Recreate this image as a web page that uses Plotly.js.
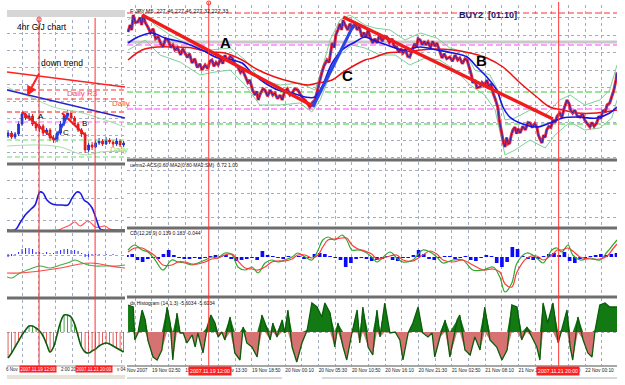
<!DOCTYPE html>
<html><head><meta charset="utf-8">
<script src="https://cdn.plot.ly/plotly-3.0.1.min.js"></script>
<style>html,body{margin:0;padding:0;background:#fff;}#chart{width:625px;height:385px;}</style>
</head><body><div id="chart"></div>
<script>
// ---------------- DATA ----------------
// Main 5-minute chart: x = bar index, y = price
const mainTickLabels = ["19 Nov 02:50","19 Nov 08:10","19 Nov 13:30","19 Nov 18:50","20 Nov 00:10","20 Nov 05:30","20 Nov 10:50","20 Nov 16:10","20 Nov 21:30","21 Nov 02:50","21 Nov 08:10","21 Nov 13:30","21 Nov 18:50","22 Nov 00:10"];
const markerDates = ["2007.11.19 12:00","2007.11.21 20:00"];
const mainMarkerBars = [157, 829];
const leftMarkerIdx = [8.86, 24.86];

const priceClose = [[2,229.22],[6,229.5],[9,229.3],[12,229.9],[16,229.6],[21,229.62],[25,229.8],[28,229.5],[31,229.9],[35,229.6],[40,229.42],[45,229.2],[50,229.35],[55,228.95],[60,229.02],[65,228.75],[69,228.62],[74,228.95],[79,228.9],[84,228.6],[88,228.7],[92,228.5],[97,228.6],[103,228.3],[107,228.55],[111,228.38],[116,228.2],[120,228.35],[125,227.98],[130,228.15],[135,227.8],[140,227.95],[144,227.7],[150,227.9],[155,227.75],[159,228.05],[163,228.1],[167,227.85],[171,228.0],[175,227.9],[180,228.15],[184,227.95],[188,228.3],[193,228.05],[198,228.25],[202,228.18],[207,227.95],[213,227.82],[218,227.6],[222,227.7],[227,227.42],[232,227.2],[236,227.3],[241,226.9],[246,226.7],[249,226.85],[252,226.5],[256,226.75],[261,226.95],[265,226.9],[270,226.65],[275,226.9],[280,226.7],[284,226.78],[289,226.55],[294,226.7],[298,226.5],[303,226.85],[308,226.95],[313,226.7],[317,226.78],[322,226.95],[328,226.9],[333,226.7],[338,226.55],[342,226.5],[346,226.35],[351,226.22],[356,226.4],[361,226.5],[366,226.9],[370,227.3],[374,227.58],[378,227.85],[384,228.1],[388,228.0],[391,228.5],[394,228.78],[398,228.6],[401,229.1],[405,229.3],[409,229.55],[412,229.3],[415,229.7],[419,229.5],[424,229.3],[428,229.55],[433,229.35],[438,229.58],[442,229.3],[446,229.45],[451,229.02],[455,229.2],[459,229.0],[463,229.3],[467,229.0],[472,228.78],[476,228.95],[480,228.78],[485,229.1],[490,228.85],[495,229.05],[499,229.02],[504,228.8],[509,228.95],[513,228.65],[518,228.62],[522,228.4],[526,228.55],[530,228.38],[535,228.5],[539,228.25],[543,228.22],[548,228.55],[552,228.75],[556,228.6],[559,228.95],[563,228.9],[567,228.7],[571,228.85],[574,228.7],[578,228.82],[583,228.6],[587,228.85],[591,228.65],[595,228.78],[600,228.5],[605,228.18],[609,228.35],[614,228.15],[620,228.22],[625,228.05],[630,228.3],[635,228.1],[639,228.18],[644,227.95],[649,228.15],[653,228.1],[656,227.9],[659,227.7],[662,227.45],[664,227.18],[668,227.3],[672,227.0],[678,227.02],[682,227.2],[687,227.1],[691,227.3],[695,227.0],[699,227.15],[703,226.78],[707,226.55],[712,226.22],[715,225.7],[718,225.3],[720,225.18],[723,224.8],[726,224.62],[729,225.0],[732,224.75],[735,224.78],[738,225.1],[741,225.3],[745,225.42],[748,225.15],[751,225.35],[755,225.18],[760,225.45],[765,225.3],[770,225.6],[774,225.58],[778,225.4],[783,225.55],[787,225.42],[790,225.1],[794,224.9],[797,224.78],[800,225.1],[803,225.0],[806,225.3],[810,225.45],[814,225.4],[818,225.7],[822,225.6],[826,225.85],[831,225.98],[835,225.8],[840,226.2],[845,226.5],[849,226.35],[852,226.1],[856,225.98],[860,226.1],[865,225.85],[870,225.82],[875,225.95],[879,225.7],[884,225.55],[889,225.42],[893,225.6],[897,225.45],[902,225.58],[906,225.85],[910,225.75],[914,226.1],[918,226.0],[922,226.3],[927,226.38],[931,226.6],[935,226.9],[939,227.3],[941,227.6]];
const maFast = [[2,228.78],[21,229.02],[48,229.18],[73,228.98],[111,228.78],[144,228.5],[175,228.18],[202,228.1],[221,227.98],[240,227.58],[265,227.18],[290,226.9],[317,226.78],[342,226.62],[361,226.62],[374,227.02],[394,227.98],[413,228.5],[438,228.82],[457,229.02],[472,228.9],[499,228.7],[530,228.5],[563,228.62],[595,228.5],[626,228.38],[653,228.22],[672,227.82],[691,227.42],[710,226.9],[722,226.22],[735,225.82],[755,225.58],[787,225.42],[812,225.58],[837,225.78],[864,225.82],[902,225.78],[927,225.98],[941,226.22]];
const maSlow = [[2,228.1],[29,228.5],[60,228.62],[92,228.62],[125,228.58],[156,228.42],[188,228.38],[221,228.1],[252,227.7],[284,227.42],[317,227.22],[348,227.1],[367,227.18],[394,227.3],[413,227.58],[438,227.9],[457,228.1],[472,228.18],[499,228.38],[530,228.42],[563,228.5],[595,228.54],[626,228.5],[659,228.38],[691,228.18],[722,227.82],[755,227.18],[787,226.62],[812,226.22],[837,226.1],[864,225.98],[902,225.98],[941,226.1]];
const bandUpper = [[2,229.7],[25,230.1],[54,229.5],[83,229.1],[121,228.7],[159,228.5],[198,228.58],[227,228.1],[255,227.3],[294,227.1],[332,227.18],[361,226.9],[374,227.7],[390,228.9],[409,229.7],[428,229.9],[457,229.5],[476,229.38],[505,229.3],[534,228.9],[563,229.18],[595,228.98],[620,228.58],[649,228.42],[668,227.7],[697,227.5],[712,226.9],[726,225.7],[745,225.78],[774,226.1],[803,225.9],[831,226.5],[851,226.7],[879,226.3],[908,226.5],[927,226.9],[941,227.9]];
const bandLower = [[2,228.5],[35,228.9],[63,228.3],[102,228.02],[140,227.5],[169,227.62],[198,227.7],[227,227.1],[255,226.3],[294,226.3],[332,226.38],[355,226.02],[371,226.5],[390,227.5],[409,228.3],[432,228.7],[457,228.58],[486,228.3],[515,228.3],[543,227.9],[572,228.18],[601,228.1],[630,227.7],[659,227.1],[687,226.7],[707,226.1],[726,224.3],[745,224.5],[774,224.9],[803,224.58],[822,225.1],[851,225.62],[879,225.3],[908,225.38],[931,225.78],[941,226.5]];
const mainLevels = [229.98, 228.82, 228.7, 226.82, 226.14, 225.54];
const trendA = [[29,229.9],[357,226.26]];
const trendB = [[415,229.82],[818,225.74]];
const trendC = [[357,226.22],[435,229.5]];
const waveLabels = ["A","C","B"];
const waveLabelPos = [[190,228.8],[424,227.47],[680,228.1]];

const macdMain = [[2,7],[15,12],[29,7],[40,5],[54,-3],[69,-13],[86,-3],[98,-5],[111,-6],[125,-8],[136,-6],[150,-3],[163,0],[175,-1],[188,4],[202,2],[213,-10],[227,-13],[240,-10],[252,-16],[265,-6],[278,-3],[290,-5],[303,-3],[317,0],[328,4],[342,0],[355,-3],[367,7],[376,17],[386,20],[399,17],[413,22],[422,17],[432,7],[444,7],[457,5],[470,0],[480,-5],[505,5],[518,-1],[530,-5],[549,-3],[568,7],[582,5],[595,0],[607,-6],[626,-3],[645,-3],[664,-13],[684,-13],[703,-10],[716,-20],[726,-35],[739,-26],[749,-6],[768,4],[787,-1],[799,-6],[816,7],[826,9],[835,5],[847,12],[856,2],[870,-3],[889,-1],[908,-3],[922,5],[933,12],[941,17]];
const macdSignal = [[2,5],[15,9],[29,9],[40,6],[54,1],[69,-8],[86,-8],[98,-5],[111,-5],[125,-7],[136,-7],[150,-5],[163,-2],[175,-1],[188,2],[202,3],[213,-4],[227,-11],[240,-12],[252,-13],[265,-10],[278,-5],[290,-4],[303,-4],[317,-2],[328,2],[342,2],[355,-1],[367,2],[376,10],[386,17],[399,18],[413,19],[422,19],[432,12],[444,8],[457,6],[470,3],[480,-2],[505,1],[518,2],[530,-3],[549,-4],[568,2],[582,6],[595,3],[607,-3],[626,-5],[645,-3],[664,-8],[684,-13],[703,-12],[716,-15],[726,-27],[739,-30],[749,-15],[768,-1],[787,1],[799,-3],[816,2],[826,7],[835,7],[847,9],[856,6],[870,0],[889,-2],[908,-2],[922,1],[933,8],[941,13]];
const macdHistBars = [0,10,20,30,40,50,60,70,80,90,100,110,120,130,140,150,160,170,180,190,200,210,220,230,240,250,260,270,280,290,300,310,320,330,340,350,360,370,380,390,400,410,420,430,440,450,460,470,480,490,500,510,520,530,540,550,560,570,580,590,600,610,620,630,640,650,660,670,680,690,700,710,720,730,740,750,760,770,780,790,800,810,820,830,840,850,860,870,880,890,900,910,920,930,940];
const macdHistVals = [2,3,-3,-5,-2,-1,-2,3,7,2,-1,-2,-2,-1,-2,-1,1,2,1,2,-2,-4,-3,-2,-1,-3,6,2,1,-1,-2,1,0,1,-2,-1,3,4,3,1,-1,-3,-10,-6,-2,-1,-2,-4,-3,-2,1,-3,-4,-1,-1,2,7,3,-2,-3,-1,1,1,-2,-1,1,-3,-4,-1,2,1,-6,-10,-5,10,8,1,-2,-3,-2,1,3,4,2,5,-4,-6,-2,-1,1,2,3,2,3,4];

const oscHist = [[2,27],[12,25],[15,-8],[21,-1],[29,22],[35,12],[40,-8],[50,-25],[58,-28],[67,-18],[77,25],[83,9],[88,-28],[96,19],[102,-1],[108,-1],[115,-11],[125,-3],[131,-15],[136,-1],[146,-21],[154,5],[161,17],[169,9],[175,-5],[182,0],[188,-8],[198,15],[207,-21],[217,-28],[223,5],[230,-11],[240,-15],[250,-25],[259,17],[265,9],[275,-8],[280,9],[288,-5],[298,12],[303,-1],[309,22],[317,-15],[326,-30],[336,-11],[346,2],[355,29],[365,25],[374,15],[380,29],[390,19],[399,-15],[405,9],[415,-15],[422,-28],[432,-1],[442,22],[447,-11],[453,25],[463,-15],[472,-23],[480,22],[486,-5],[495,29],[505,-1],[515,0],[524,-8],[530,-28],[540,-1],[549,9],[559,25],[568,-1],[578,-5],[586,-1],[591,-25],[601,-5],[611,12],[620,-25],[634,12],[639,17],[649,-18],[659,-23],[668,-5],[678,-18],[687,25],[697,-8],[710,-15],[720,-28],[730,-18],[739,27],[749,25],[758,-8],[768,5],[778,-5],[787,-15],[793,-28],[799,29],[808,9],[818,29],[828,-11],[835,2],[845,22],[851,-15],[856,-28],[866,15],[876,-8],[885,-21],[893,-25],[899,2],[908,27],[918,29],[927,25],[941,25]];

// Left 4hr chart: x = candle index
const leftOpen  = [226.4,226.7,226.3,226.6,227.6,228.6,228.2,228.4,227.6,227.2,227.4,226.7,227.0,226.2,226.0,226.7,227.6,228.4,228.7,228.2,227.6,227.0,226.6,225.0,225.5,225.3,225.7,225.9,225.6,226.0,225.8,225.6,225.9,225.5];
const leftHigh  = [227.0,226.9,226.8,227.9,228.8,228.9,228.7,228.6,227.9,227.6,227.6,227.2,227.2,226.5,226.9,227.9,228.6,229.0,228.9,228.4,227.8,227.2,226.8,225.7,225.8,226.0,226.2,226.1,226.3,226.2,226.0,226.2,226.1,225.9];
const leftLow   = [226.2,226.1,226.1,226.4,227.4,228.0,227.9,227.4,226.9,226.8,226.4,226.5,225.9,225.7,225.8,226.5,227.4,228.2,228.0,227.4,226.8,226.3,224.7,224.8,225.0,225.2,225.5,225.4,225.5,225.6,225.3,225.4,225.3,225.3];
const leftClose = [226.7,226.3,226.6,227.6,228.6,228.2,228.4,227.6,227.2,227.4,226.7,227.0,226.2,226.0,226.7,227.6,228.4,228.7,228.2,227.6,227.0,226.6,225.0,225.5,225.3,225.7,225.9,225.6,226.0,225.8,225.6,225.9,225.5,225.7];
const leftChannelTop = [[-0.3,232.8],[33.4,231.3]];
const leftTrendBlue = [[-0.3,231.0],[33.4,228.2]];
const leftLevels = [231.0, 230.1, 228.8, 227.8, 226.0, 224.3];
const leftBandUpper = [[-0.3,231.3],[3.4,230.7],[7.1,230.2],[12.9,229.3],[21.4,228.7],[33.4,227.3]];
const leftBandLower = [[-0.3,225.4],[9.1,225.5],[14.9,225.3],[22.0,224.5],[26.3,224.8],[33.4,224.9]];
const leftTrendA = [[4,228.8],[13.4,226.0]];
const leftTrendC = [[13.4,226.0],[17.1,228.5]];
const leftTrendB = [[15.4,228.7],[22,226.5]];
const leftWavePos = [[9.4,228.4],[16.6,226.8],[21.7,227.7]];
const leftIndBlue = [[-0.3,0],[2,0],[3.4,7],[4.9,15],[6.3,20],[7.7,25],[9.1,38],[10,37],[11.1,30],[12.6,26],[14,25],[15.4,25],[17.1,25],[18.3,32],[19.7,38],[20.6,37],[21.7,30],[22.9,27],[24,22],[25.1,12],[26.3,1],[27.1,0],[33.4,0]];
const leftIndRed = [[-0.3,0],[14.3,0],[15.7,2],[17.7,5],[19.1,8],[20.6,4],[22.9,9],[24.9,3],[26.3,3],[27.7,4],[29.1,1],[33.4,0]];
const leftMacdHist = [-3,-2,-1,2,5,6,6,5,2,2,1,2,1,1,3,4,5,5,4,4,3,1,-3,-3,-1,-1,-1,0,-1,0,-1,0,0,0];
const leftMacdGreen = [[-0.3,-23],[1.1,-24],[3.4,-19],[6.3,-15],[9.1,-12],[12,-14],[14.9,-11],[17.7,-8],[19.1,-6],[20.6,-8],[22.9,-11],[24.9,-12],[27.7,-12],[30.6,-12],[33.4,-11]];
const leftMacdRed = [[-0.3,-19],[3.4,-19],[9.1,-17],[14.9,-14],[20.6,-10],[23.4,-9],[26.3,-10],[29.1,-12],[33.4,-14]];
const leftOsc = [-26,-21,-15,-9,-3,2,6,6,4,1,-4,-12,-20,-15,-3,10,17,17,15,8,-4,-15,-20,-21,-19,-17,-14,-12,-11,-12,-14,-16,-18,-20];

// ---------------- BUILD ----------------
const W = 625, H = 385;
const F = 'Liberation Sans, Arial, sans-serif';
const PY = p => 1 - p / H;
const X = a => a.map(d => d[0]);
const Y = a => a.map(d => d[1]);
const traces = [];
function ln(pairs, xa, ya, color, width, dash, shape) {
  traces.push({type:'scatter', mode:'lines', x:X(pairs), y:Y(pairs), xaxis:xa, yaxis:ya,
    line:{color:color, width:width, dash:dash||'solid', shape:shape||'linear'}, hoverinfo:'skip', showlegend:false});
}
// ---- main price panel
const mainLevelStyle = [['#ff3030',1,'6px,3px'],['#c8c8c8',3,'solid'],['#ff44ff',1,'6px,3px'],['#33cc33',1,'6px,3px'],['#ff44ff',1,'6px,3px'],['#33cc33',1,'6px,3px']];
mainLevels.forEach((v,i) => ln([[0,v],[941,v]], 'x', 'y', mainLevelStyle[i][0], mainLevelStyle[i][1], mainLevelStyle[i][2]));
ln(bandUpper, 'x', 'y', '#7fcf98', 1);
ln(bandLower, 'x', 'y', '#7fcf98', 1);
ln(maSlow, 'x', 'y', '#ee1111', 1.5, null, 'spline');
ln(priceClose, 'x', 'y', '#e8283c', 3);
ln(priceClose, 'x', 'y', '#2a2ab8', 1);
ln(maFast, 'x', 'y', '#1414e6', 1.6, null, 'spline');
ln(trendA, 'x', 'y', '#f01c1c', 3.5);
ln(trendB, 'x', 'y', '#f01c1c', 3.5);
ln(trendC, 'x', 'y', '#2a44e8', 3);
// ---- ACS panel (empty)
traces.push({type:'scatter', mode:'lines', x:[], y:[], xaxis:'x', yaxis:'y2', showlegend:false, hoverinfo:'skip'});
// ---- MACD panel
traces.push({type:'bar', x:macdHistBars, y:macdHistVals, width:7, xaxis:'x', yaxis:'y3', marker:{color:'#0a0aff', line:{width:0}}, hoverinfo:'skip', showlegend:false});
ln(macdMain, 'x', 'y3', '#2ea82e', 1.2, null, 'spline');
ln(macdSignal, 'x', 'y3', '#ff3a3a', 1.2, null, 'spline');
// ---- oscillator histogram panel
traces.push({type:'scatter', mode:'lines', x:X(oscHist), y:oscHist.map(d=>Math.max(d[1],0)), fill:'tozeroy', fillcolor:'#137a13', line:{width:0}, xaxis:'x', yaxis:'y4', hoverinfo:'skip', showlegend:false});
traces.push({type:'scatter', mode:'lines', x:X(oscHist), y:oscHist.map(d=>Math.min(d[1],0)), fill:'tozeroy', fillcolor:'#d77272', line:{width:0}, xaxis:'x', yaxis:'y4', hoverinfo:'skip', showlegend:false});
ln(oscHist, 'x', 'y4', '#0b5c0b', 1.3);

// ---- left price panel
const leftIdx = leftOpen.map((_,i)=>i);
const leftLevelStyle = [['#ff3030',1,'5px,3px'],['#ff3030',1,'5px,3px'],['#ff8a8a',2,'5px,3px'],['#ff66ff',1,'5px,3px'],['#66dd66',1,'5px,3px'],['#66dd66',1,'5px,3px']];
leftLevels.forEach((v,i) => ln([[-0.3,v],[33.4,v]], 'x2', 'y5', leftLevelStyle[i][0], leftLevelStyle[i][1], leftLevelStyle[i][2]));
ln(leftBandUpper, 'x2', 'y5', '#9ee0a8', 1, null, 'spline');
ln(leftBandLower, 'x2', 'y5', '#9ee0a8', 1, null, 'spline');
ln(leftChannelTop, 'x2', 'y5', '#ff2020', 1.6);
ln(leftTrendBlue, 'x2', 'y5', '#2222cc', 1.6);
traces.push({type:'candlestick', x:leftIdx, open:leftOpen, high:leftHigh, low:leftLow, close:leftClose, xaxis:'x2', yaxis:'y5',
  increasing:{line:{color:'#2233cc', width:1}, fillcolor:'#2233cc'}, decreasing:{line:{color:'#e01818', width:1}, fillcolor:'#e01818'},
  whiskerwidth:0, hoverinfo:'skip', showlegend:false});
ln(leftTrendA, 'x2', 'y5', '#f01c1c', 2.2);
ln(leftTrendB, 'x2', 'y5', '#f01c1c', 2.2);
ln(leftTrendC, 'x2', 'y5', '#2a44e8', 2.2);
// ---- left indicator panel
ln(leftIndRed, 'x2', 'y6', '#ff5555', 1.2, null, 'spline');
ln(leftIndBlue, 'x2', 'y6', '#1a1ae0', 1.6, null, 'spline');
// ---- left macd panel
traces.push({type:'bar', x:leftIdx, y:leftMacdHist, width:0.3, xaxis:'x2', yaxis:'y7', marker:{color:'#2a2aff'}, hoverinfo:'skip', showlegend:false});
ln(leftMacdGreen, 'x2', 'y7', '#44aa44', 1.1, null, 'spline');
ln(leftMacdRed, 'x2', 'y7', '#ff4444', 1.1, null, 'spline');
// ---- left histogram panel
traces.push({type:'bar', x:leftIdx, y:leftOsc, width:0.22, xaxis:'x2', yaxis:'y8', marker:{color:leftOsc.map(v=> v<0 ? '#e03030' : '#138a13')}, hoverinfo:'skip', showlegend:false});
traces.push({type:'scatter', mode:'lines', x:leftIdx, y:leftOsc, xaxis:'x2', yaxis:'y8', line:{color:'#0b5c0b', width:1.6, shape:'spline'}, hoverinfo:'skip', showlegend:false});

// ---------------- LAYOUT ----------------
const gridC = '#a3adbf';
const gridVals = [], gridText = [];
for (let k = 0; k <= 28; k++) { gridVals.push(16 + 32*k); gridText.push(k % 2 === 1 ? mainTickLabels[(k-1)/2] : ''); }
function yax(p0, p1, range, extra) {
  return Object.assign({domain:[PY(p1), PY(p0)], range:range, showticklabels:false, zeroline:false, showline:false,
    showgrid:false, gridcolor:gridC, griddash:'dot', gridwidth:1, fixedrange:true, ticks:''}, extra||{});
}
const layout = {
  width:W, height:H, margin:{l:0,r:0,t:0,b:0}, paper_bgcolor:'#fff', plot_bgcolor:'rgba(0,0,0,0)',
  showlegend:false, barmode:'overlay', font:{family:F},
  xaxis:{domain:[127/W, 617/W], range:[0,941], anchor:'y4', tickmode:'array', tickvals:gridVals, ticktext:gridText,
    ticks:'', tickangle:0, ticklabelposition:'outside right', tickfont:{family:F, size:4.8, color:'#222'},
    showgrid:true, gridcolor:gridC, griddash:'dot', gridwidth:1, zeroline:false, showline:false, fixedrange:true},
  yaxis: yax(5, 159, [224.14, 230.3], {anchor:'x', showgrid:true, tick0:229.1, dtick:0.7}),
  yaxis2: yax(162, 227, [0, 65], {anchor:'x', showgrid:true, tickmode:'array', tickvals:[10,34,57]}),
  yaxis3: yax(230, 296, [-39, 27], {anchor:'x'}),
  yaxis4: yax(298, 366, [-34, 34], {anchor:'x', showgrid:true, tickmode:'array', tickvals:[0]}),
  xaxis2:{domain:[7/W, 125/W], range:[-0.3,33.4], anchor:'y8', showticklabels:false, tickmode:'array',
    tickvals:[4,8.8,13.5,18.3,23,27.7,32.5], ticks:'', showgrid:true, gridcolor:gridC, griddash:'dot', gridwidth:1,
    zeroline:false, showline:false, fixedrange:true, rangeslider:{visible:false}},
  yaxis5: yax(20, 162, [223.8, 238.0], {anchor:'x2', showgrid:true, tick0:236.7, dtick:1.7}),
  yaxis6: yax(166, 230, [0, 64], {anchor:'x2', showgrid:true, tickmode:'array', tickvals:[10,32,50]}),
  yaxis7: yax(233, 297, [-43, 21], {anchor:'x2', showgrid:true, tickmode:'array', tickvals:[-1]}),
  yaxis8: yax(300, 366, [-34, 32], {anchor:'x2', showgrid:true, tickmode:'array', tickvals:[0]}),
  shapes:[], annotations:[]
};
const S = layout.shapes, A = layout.annotations;
function hsep(x0, x1, py, color, w) { S.push({type:'line', xref:'paper', yref:'paper', x0:x0/W, x1:x1/W, y0:PY(py), y1:PY(py), line:{color:color, width:w}}); }
[160, 228, 297].forEach(p => hsep(127, 617, p, '#6e6e6e', 3));
hsep(127, 617, 366, '#8a8a8a', 1.5);
[164, 231, 298].forEach(p => hsep(7, 125, p, '#6e6e6e', 3));
hsep(7, 125, 366, '#9a9a9a', 1);
S.push({type:'rect', xref:'paper', yref:'paper', x0:7/W, x1:125/W, y0:PY(17), y1:PY(10), fillcolor:'#d6d6d6', line:{width:0}});
S.push({type:'rect', xref:'paper', yref:'paper', x0:7/W, x1:125/W, y0:PY(379), y1:PY(375), fillcolor:'#e6e2d6', line:{width:0}});
hsep(127, 282, 378, '#b0b0b0', 1); hsep(322, 617, 378, '#b0b0b0', 1);
// vertical marker lines
mainMarkerBars.forEach(b => {
  S.push({type:'line', xref:'x', yref:'paper', x0:b, x1:b, y0:PY(366), y1:PY(2), line:{color:'#ff3030', width:1}});
});
S.push({type:'circle', xref:'x', yref:'paper', x0:mainMarkerBars[0]-4, x1:mainMarkerBars[0]+4, y0:PY(5), y1:PY(1), line:{color:'#ff3030', width:1}});
leftMarkerIdx.forEach(b => {
  S.push({type:'line', xref:'x2', yref:'paper', x0:b, x1:b, y0:PY(366), y1:PY(18), line:{color:'#ff3030', width:1}});
});
S.push({type:'circle', xref:'x2', yref:'paper', x0:leftMarkerIdx[0]-0.6, x1:leftMarkerIdx[0]+0.6, y0:PY(22), y1:PY(17), line:{color:'#ff3030', width:1}});

function txt(x, y, text, size, color, anchor, extra) {
  A.push(Object.assign({xref:'paper', yref:'paper', x:x/W, y:PY(y), text:text, showarrow:false,
    font:{family:F, size:size, color:color}, xanchor:anchor||'center', yanchor:'middle'}, extra||{}));
}
// main texts
txt(128, 11, 'F:JPY,M5  227.46 227.46 227.32 227.33', 5.5, '#111', 'left');
txt(488, 15, '<b>BUY2  [01:10]</b>', 9, '#1b1b70');
waveLabels.forEach((t,i) => A.push({xref:'x', yref:'y', x:waveLabelPos[i][0], y:waveLabelPos[i][1], text:'<b>'+t+'</b>', showarrow:false, font:{family:F, size:15, color:'#000'}}));
txt(128, 165, 'uems2-ACS(0.60·MA2(0.80·MA2:SM)  0.72 1.00', 5, '#111', 'left');
txt(128, 233, 'CD(12,26,9) 0.139 0.183 -0.044', 5, '#111', 'left');
txt(128, 303, 'dx Histogram (14,1,3) -5.6034 -5.6034', 5, '#111', 'left');
txt(125, 370.5, 'Nov 2007', 4.8, '#222', 'left');
const boxX = [210, 558];
markerDates.forEach((d,i) => txt(boxX[i], 370.5, d, 5.2, '#fff', 'center', {bgcolor:'#ff1f1f', borderpad:1}));
// left texts
txt(15, 27, '4hr G/J chart', 8.5, '#000', 'left');
txt(62, 63, 'down trend', 8.5, '#000');
A.push({xref:'x2', yref:'y5', x:5.4, y:230.4, ax:13, ay:-24, text:'', showarrow:true, arrowhead:2, arrowsize:1, arrowwidth:2, arrowcolor:'#ff2020'});
txt(82, 94, 'Daily R3', 8, '#ff4a4a');
txt(110, 104, 'Daily', 8, '#ff4a4a', 'left');
txt(108, 149, 'Daily', 8, '#7edc7e', 'left');
waveLabels.forEach((t,i) => A.push({xref:'x2', yref:'y5', x:leftWavePos[i][0], y:leftWavePos[i][1], text:t, showarrow:false, font:{family:F, size:8, color:'#000'}}));
txt(4, 369, '6 Nov', 4.5, '#222', 'left');
txt(59, 369, '2:00', 4.5, '#222', 'left');
txt(69, 369, '20', 4.5, '#222', 'left');
txt(115, 369, 'v 04', 4.5, '#222', 'left');
const leftBoxX = [38, 94];
markerDates.forEach((d,i) => txt(leftBoxX[i], 369, d, 4.5, '#fff', 'center', {bgcolor:'#ff1f1f', borderpad:0.5}));

Plotly.newPlot('chart', traces, layout, {staticPlot:true, displayModeBar:false});
</script></body></html>
